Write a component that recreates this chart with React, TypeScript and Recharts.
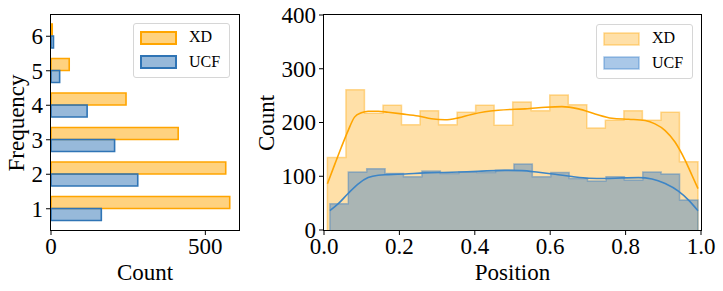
import React from 'react';
import { BarChart, Bar, ComposedChart, Area, Line, XAxis, YAxis, Legend } from 'recharts';

// left panel: how often each sample appears
const freqLevels = [1, 2, 3, 4, 5, 6];
const xdFreqCounts = [579, 566, 412, 243, 59, 4];
const ucfFreqCounts = [163, 281, 206, 117, 28, 8];
const freqCountTicks = [0, 500];

// right panel: histogram of positions (20 bins each)
const xdBinRange = [0.009, 0.992];
const ucfBinRange = [0.0156, 0.992];
const xdBinCounts = [135, 261, 217, 232, 196, 222, 196, 219, 232, 195, 238, 222, 251, 233, 190, 204, 222, 204, 219, 127];
const ucfBinCounts = [49, 108, 114, 105, 99, 110, 105, 108, 107, 111, 123, 99, 107, 96, 91, 99, 93, 108, 104, 56];

// kde curves
const xdKdePos = [0.009, 0.029, 0.046, 0.064, 0.081, 0.099, 0.117, 0.144, 0.17, 0.206, 0.25, 0.285, 0.321, 0.356, 0.391, 0.427, 0.462, 0.506, 0.534, 0.587, 0.631, 0.675, 0.719, 0.764, 0.808, 0.852, 0.878, 0.905, 0.931, 0.958, 0.976, 0.992];
const xdKdeVal = [86, 123, 154, 185, 210, 218, 221, 221, 219, 216, 212, 207, 205, 208.6, 215, 220, 222.8, 224.7, 225.3, 228.4, 229.6, 225.3, 216, 208, 206, 203.7, 197.5, 185, 163.6, 129.6, 101.9, 77];
const ucfKdePos = [0.0156, 0.038, 0.064, 0.091, 0.117, 0.144, 0.17, 0.215, 0.268, 0.338, 0.409, 0.48, 0.525, 0.569, 0.613, 0.658, 0.702, 0.746, 0.79, 0.834, 0.87, 0.905, 0.94, 0.967, 0.992];
const ucfKdeVal = [36, 49, 68, 86, 97.5, 102, 103, 104.3, 106.2, 107.4, 109.3, 111, 110.5, 107.4, 103.7, 99.4, 96.3, 95.7, 96.9, 97.5, 95, 86.4, 72.2, 55.6, 35.8];

const posTicks = [0, 0.2, 0.4, 0.6, 0.8, 1.0];
const countTicks = [0, 100, 200, 300, 400];

const ORANGE = '#ffa500';
const BLUE_BAR = '#2f74b5';
const BLUE = '#2a76c6';
const BLUE_LINE = '#3d85c6';
const FONT = '"Liberation Serif", "Times New Roman", serif';

const freqData = freqLevels
  .map((f, i) => ({ freq: String(f), XD: xdFreqCounts[i], UCF: ucfFreqCounts[i] }))
  .reverse();

// step outline of a histogram, closed down to zero at both ends
const histRows = (range: number[], counts: number[], key: string) => {
  const w = (range[1] - range[0]) / counts.length;
  const rows: Record<string, number>[] = [{ x: range[0], [key]: 0 }];
  counts.forEach((c, i) => rows.push({ x: range[0] + i * w, [key]: c }));
  rows.push({ x: range[1], [key]: counts[counts.length - 1] });
  rows.push({ x: range[1], [key]: 0 });
  return rows;
};

const posData = [
  ...histRows(xdBinRange, xdBinCounts, 'xdHist'),
  ...histRows(ucfBinRange, ucfBinCounts, 'ucfHist'),
  ...xdKdePos.map((x, i) => ({ x, xdKde: xdKdeVal[i] })),
  ...ucfKdePos.map((x, i) => ({ x, ucfKde: ucfKdeVal[i] })),
].sort((a, b) => a.x - b.x);

// serif tick labels
const serifTick = (fmt: (v: any) => string, anchor: 'middle' | 'end', dy: string) => (props: any) => (
  <text x={props.x} y={props.y} dy={dy} textAnchor={anchor} fontSize={23} fill="#000"
    style={{ fontFamily: FONT }}>
    {fmt(props.payload.value)}
  </text>
);
const xTick = serifTick((v) => String(v), 'middle', '0.71em');
const posXTick = serifTick((v) => Number(v).toFixed(1), 'middle', '0.71em');
const yTick = serifTick((v) => String(v), 'end', '0.34em');

type Entry = { label: string; fill: string; fillOpacity: number; stroke: string; strokeOpacity: number; strokeWidth: number };

const legendBox = (entries: Entry[]) => () => (
  <div
    style={{
      position: 'relative',
      width: 97,
      height: 55,
      boxSizing: 'border-box',
      border: '1px solid #d6d6d6',
      borderRadius: 3,
      background: 'rgba(255,255,255,0.8)',
      fontFamily: FONT,
      fontSize: 16,
      color: '#000',
    }}
  >
    {entries.map((e, i) => (
      <React.Fragment key={e.label}>
        <svg style={{ position: 'absolute', left: 6, top: 6.5 + i * 24.5 }} width={37} height={14}>
          <rect x={1} y={1} width={35} height={12} fill={e.fill} fillOpacity={e.fillOpacity}
            stroke={e.stroke} strokeOpacity={e.strokeOpacity} strokeWidth={e.strokeWidth} />
        </svg>
        <span style={{ position: 'absolute', left: 55, top: 4 + i * 24.5, lineHeight: '18px' }}>{e.label}</span>
      </React.Fragment>
    ))}
  </div>
);

const FreqLegend = legendBox([
  { label: 'XD', fill: ORANGE, fillOpacity: 0.5, stroke: ORANGE, strokeOpacity: 1, strokeWidth: 2 },
  { label: 'UCF', fill: BLUE_BAR, fillOpacity: 0.5, stroke: BLUE_BAR, strokeOpacity: 1, strokeWidth: 2 },
]);

const PosLegend = legendBox([
  { label: 'XD', fill: ORANGE, fillOpacity: 0.34, stroke: ORANGE, strokeOpacity: 0.4, strokeWidth: 1.5 },
  { label: 'UCF', fill: BLUE, fillOpacity: 0.4, stroke: BLUE, strokeOpacity: 0.4, strokeWidth: 1.5 },
]);

const frame = (left: number, top: number, width: number, height: number) => (
  <div
    style={{
      position: 'absolute',
      left: left - 0.75,
      top: top - 0.75,
      width: width + 1.5,
      height: height + 1.5,
      boxSizing: 'border-box',
      border: '1.5px solid #000',
      pointerEvents: 'none',
    }}
  />
);

const App = () => {
  return (
    <div style={{ position: 'absolute', left: 0, top: 0, width: 723, height: 291, background: '#fff', fontFamily: FONT }}>
      <div style={{ position: 'absolute', left: 0, top: 0 }}>
        <BarChart
          width={250}
          height={291}
          data={freqData}
          layout="vertical"
          margin={{ top: 15, right: 11, bottom: 31, left: 0 }}
          barGap={0}
          barSize={12}
        >
          <XAxis type="number" domain={[0, 609]} ticks={freqCountTicks} height={30}
            tick={xTick} tickSize={5} tickMargin={3} axisLine={false} tickLine={{ stroke: '#000' }} />
          <YAxis type="category" dataKey="freq" width={51} padding={{ top: 4, bottom: 4 }}
            tick={yTick} tickSize={5} tickMargin={3} axisLine={false} tickLine={{ stroke: '#000' }} />
          <Legend layout="vertical" align="center" verticalAlign="middle" content={FreqLegend}
            wrapperStyle={{ left: 133, top: 23, width: 97, height: 55 }} />
          <Bar dataKey="XD" fill={ORANGE} fillOpacity={0.5} stroke={ORANGE} strokeWidth={1.6} isAnimationActive={false} />
          <Bar dataKey="UCF" fill={BLUE_BAR} fillOpacity={0.5} stroke={BLUE_BAR} strokeWidth={1.6} isAnimationActive={false} />
        </BarChart>
      </div>
      {frame(51, 15, 188, 215)}

      <div style={{ position: 'absolute', left: 240, top: 0 }}>
        <ComposedChart
          width={483}
          height={291}
          data={posData}
          margin={{ top: 15, right: 22, bottom: 31, left: 0 }}
        >
          <XAxis type="number" dataKey="x" domain={[0, 1]} ticks={posTicks} allowDataOverflow height={30}
            tick={posXTick} tickSize={5} tickMargin={3} axisLine={false} tickLine={{ stroke: '#000' }} />
          <YAxis type="number" domain={[0, 400]} ticks={countTicks} width={84}
            tick={yTick} tickSize={5} tickMargin={3} axisLine={false} tickLine={{ stroke: '#000' }} />
          <Legend layout="vertical" align="center" verticalAlign="middle" content={PosLegend}
            wrapperStyle={{ left: 356, top: 24, width: 97, height: 55 }} />
          <Area dataKey="xdHist" type="stepAfter" connectNulls fill={ORANGE} fillOpacity={0.34}
            stroke={ORANGE} strokeOpacity={0.4} strokeWidth={1.5} dot={false} activeDot={false} isAnimationActive={false} />
          <Line dataKey="xdKde" type="monotone" connectNulls stroke={ORANGE} strokeWidth={1.6}
            dot={false} activeDot={false} isAnimationActive={false} />
          <Area dataKey="ucfHist" type="stepAfter" connectNulls fill={BLUE} fillOpacity={0.4}
            stroke={BLUE} strokeOpacity={0.4} strokeWidth={1.5} dot={false} activeDot={false} isAnimationActive={false} />
          <Line dataKey="ucfKde" type="monotone" connectNulls stroke={BLUE_LINE} strokeWidth={1.6}
            dot={false} activeDot={false} isAnimationActive={false} />
        </ComposedChart>
      </div>
      {frame(324, 15, 377, 215)}

      <svg width={723} height={291} style={{ position: 'absolute', left: 0, top: 0, pointerEvents: 'none', fontFamily: FONT, fontSize: 23 }}
        fill="#000">
        <text x={145} y={280} textAnchor="middle">Count</text>
        <text transform="translate(23.5,123) rotate(-90)" textAnchor="middle">Frequency</text>
        <text x={512.5} y={280} textAnchor="middle">Position</text>
        <text transform="translate(274,123) rotate(-90)" textAnchor="middle">Count</text>
      </svg>
    </div>
  );
};

export default App;
